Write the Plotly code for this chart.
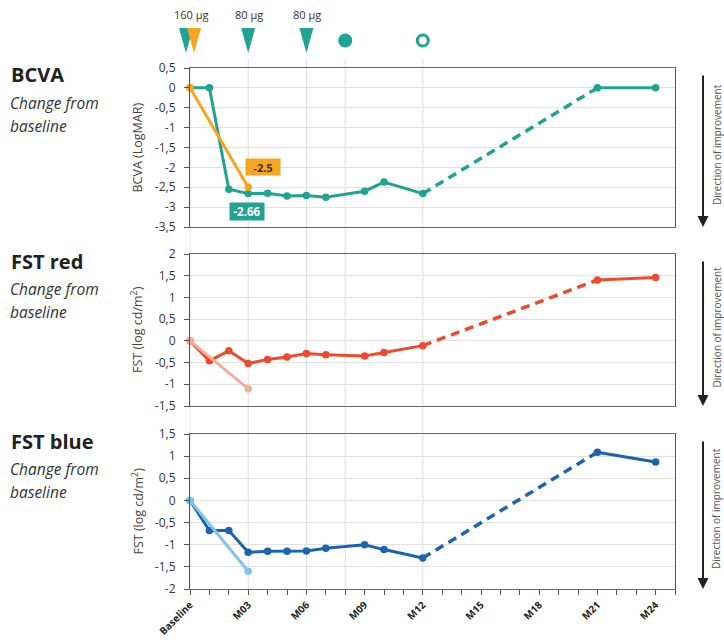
import plotly.graph_objects as go

W, H = 724, 642

# ---- data -------------------------------------------------------------
months = [0, 1, 2, 3, 4, 5, 6, 7, 9, 10, 12]
late_months = [21, 24]

bcva = [0, 0, -2.55, -2.66, -2.65, -2.72, -2.71, -2.75, -2.6, -2.37, -2.66]
bcva_late = [0, 0]
bcva_160_months = [0, 3]
bcva_160 = [0, -2.5]

fst_red = [0, -0.46, -0.23, -0.52, -0.43, -0.37, -0.29, -0.32, -0.35, -0.27, -0.11]
fst_red_late = [1.40, 1.46]
fst_red_160 = [0, -1.1]

fst_blue = [0, -0.68, -0.68, -1.17, -1.15, -1.15, -1.14, -1.08, -1.0, -1.11, -1.30]
fst_blue_late = [1.09, 0.87]
fst_blue_160 = [0, -1.6]

x_range = [0, 25]
x_tick_vals = list(range(26))
x_tick_labels = {0: "Baseline", 3: "M03", 6: "M06", 9: "M09", 12: "M12",
                 15: "M15", 18: "M18", 21: "M21", 24: "M24"}

bcva_ticks = [-3.5, -3, -2.5, -2, -1.5, -1, -0.5, 0, 0.5]
bcva_tick_text = ["-3,5", "-3", "-2,5", "-2", "-1,5", "-1", "-0,5", "0", "0,5"]
red_ticks = [-1.5, -1, -0.5, 0, 0.5, 1, 1.5, 2]
red_tick_text = ["-1,5", "-1", "-0,5", "0", "0,5", "1", "1,5", "2"]
blue_ticks = [-2, -1.5, -1, -0.5, 0, 0.5, 1, 1.5]
blue_tick_text = ["-2", "-1,5", "-1", "-0,5", "0", "0,5", "1", "1,5"]

# dosing / event markers along the top
dose_months = [0, 0, 3, 6]
dose_labels = {0: "160 µg", 3: "80 µg", 6: "80 µg"}
visit_filled_month = 8
visit_open_month = 12
event_line_months = [0, 3, 6, 8, 12]

# ---- styling ----------------------------------------------------------
TEAL = "#21a394"
ORANGE = "#f7a51e"
RED = "#ee4a2b"
SALMON = "#f5ae9e"
BLUE = "#1a64b0"
LIGHTBLUE = "#7fc4f1"
FONT = "Open Sans"

def px_x(p):
    return p / W

def px_y(p):
    return 1 - p / H

def month_frac(m):
    # position of a month as a fraction of the x-axis domain
    return (m - x_range[0]) / (x_range[1] - x_range[0])

panels = [
    dict(xa="x", ya="y", dom=(227, 68), rng=[-3.5, 0.5], ticks=bcva_ticks, ticktext=bcva_tick_text,
         main=bcva, late=bcva_late, short=bcva_160, c=TEAL, cs=ORANGE,
         title="BCVA", ytitle="BCVA (LogMAR)", top=68),
    dict(xa="x2", ya="y2", dom=(406, 254), rng=[-1.5, 2], ticks=red_ticks, ticktext=red_tick_text,
         main=fst_red, late=fst_red_late, short=fst_red_160, c=RED, cs=SALMON,
         title="FST red", ytitle="FST (log cd/m<sup>2</sup>)", top=254),
    dict(xa="x3", ya="y3", dom=(589, 434), rng=[-2, 1.5], ticks=blue_ticks, ticktext=blue_tick_text,
         main=fst_blue, late=fst_blue_late, short=fst_blue_160, c=BLUE, cs=LIGHTBLUE,
         title="FST blue", ytitle="FST (log cd/m<sup>2</sup>)", top=434),
]

fig = go.Figure()
annotations = []
shapes = []

for p in panels:
    xa, ya = p["xa"], p["ya"]
    # measured series
    fig.add_trace(go.Scatter(x=months, y=p["main"], xaxis=xa, yaxis=ya, mode="lines+markers",
                             line=dict(color=p["c"], width=3), marker=dict(size=7.5, color=p["c"]),
                             cliponaxis=False, hoverinfo="skip"))
    fig.add_trace(go.Scatter(x=[months[-1], late_months[0]], y=[p["main"][-1], p["late"][0]],
                             xaxis=xa, yaxis=ya, mode="lines",
                             line=dict(color=p["c"], width=3.5, dash="9px,6px"), hoverinfo="skip"))
    fig.add_trace(go.Scatter(x=late_months, y=p["late"], xaxis=xa, yaxis=ya, mode="lines+markers",
                             line=dict(color=p["c"], width=3), marker=dict(size=7.5, color=p["c"]),
                             cliponaxis=False, hoverinfo="skip"))
    # 160 µg comparison eye
    fig.add_trace(go.Scatter(x=bcva_160_months, y=p["short"], xaxis=xa, yaxis=ya,
                             mode="lines+markers", line=dict(color=p["cs"], width=3),
                             marker=dict(size=7.5, color=p["cs"]), cliponaxis=False,
                             hoverinfo="skip"))

    # panel heading
    annotations.append(dict(text=f"<b>{p['title']}</b>", xref="paper", yref="paper",
                            x=px_x(9), y=px_y(p["top"] + 7), xanchor="left", yanchor="middle",
                            showarrow=False, font=dict(family=FONT, size=20, color="#222")))
    annotations.append(dict(text="<i>Change from</i>", xref="paper", yref="paper",
                            x=px_x(8), y=px_y(p["top"] + 35), xanchor="left", yanchor="middle",
                            showarrow=False, font=dict(family=FONT, size=15.5, color="#333")))
    annotations.append(dict(text="<i>baseline</i>", xref="paper", yref="paper",
                            x=px_x(8), y=px_y(p["top"] + 58), xanchor="left", yanchor="middle",
                            showarrow=False, font=dict(family=FONT, size=15.5, color="#333")))
    # y axis title
    mid = (p["dom"][0] + p["dom"][1]) / 2
    annotations.append(dict(text=p["ytitle"], xref="paper", yref="paper", x=px_x(137), y=px_y(mid),
                            textangle=-90, showarrow=False, xanchor="center", yanchor="middle",
                            font=dict(family=FONT, size=12.5, color="#444")))
    # direction arrow
    annotations.append(dict(text="", xref="paper", yref="paper", x=px_x(703),
                            y=px_y(p["dom"][0]), ax=0, ay=-(p["dom"][0] - p["dom"][1] - 6),
                            axref="pixel", ayref="pixel", showarrow=True, arrowhead=2,
                            arrowsize=1.1, arrowwidth=2, arrowcolor="#222"))
    annotations.append(dict(text="Direction of improvement", xref="paper", yref="paper",
                            x=px_x(716.5), y=px_y(mid - 3), textangle=-90, showarrow=False,
                            xanchor="center", yanchor="middle",
                            font=dict(family=FONT, size=10, color="#555")))

# value call-outs at M03 in the BCVA panel
annotations.append(dict(text=f"<b>{bcva_160[-1]:g}</b>", xref="x", yref="y", x=bcva_160_months[-1],
                        y=bcva_160[-1], xanchor="left", yanchor="middle", xshift=-3, yshift=20,
                        showarrow=False, bgcolor=ORANGE, borderpad=1, width=32, height=14,
                        font=dict(family=FONT, size=11, color="#333")))
annotations.append(dict(text=f"<b>{bcva[3]:g}</b>", xref="x", yref="y", x=months[3], y=bcva[3],
                        xanchor="center", yanchor="middle", xshift=-1, yshift=-18,
                        showarrow=False, bgcolor=TEAL, borderpad=1, width=32, height=15,
                        font=dict(family=FONT, size=11.5, color="white")))

# event lines spanning all panels
for m in event_line_months:
    shapes.append(dict(type="line", xref="x", yref="paper", x0=m, x1=m,
                       y0=px_y(589), y1=px_y(58), line=dict(color="#dedede", width=1),
                       layer="below"))

# dose triangles (placed on the x-axis domain so they are not clipped at the edge)
MARK_Y = px_y(40.5)
dose_colors = [TEAL, ORANGE, TEAL, TEAL]
dose_offsets = [-4, 4, 0, 0]
for m, col, off in zip(dose_months, dose_colors, dose_offsets):
    shapes.append(dict(type="path", xref="x domain", yref="paper", xsizemode="pixel",
                       ysizemode="pixel", xanchor=month_frac(m), yanchor=MARK_Y,
                       path=f"M {off-7},12.5 L {off+7},12.5 L {off},-12.5 Z",
                       fillcolor=col, line=dict(width=0), layer="above"))
for m, txt in dose_labels.items():
    annotations.append(dict(text=txt, xref="x", yref="paper", x=m, y=px_y(15), xshift=1,
                            showarrow=False, xanchor="center", yanchor="middle",
                            font=dict(family=FONT, size=11, color="#333")))

# follow-up visits
shapes.append(dict(type="circle", xref="x domain", yref="paper", xsizemode="pixel",
                   ysizemode="pixel", xanchor=month_frac(visit_filled_month), yanchor=MARK_Y,
                   x0=-7, x1=7, y0=-7, y1=7, fillcolor=TEAL, line=dict(width=0), layer="above"))
shapes.append(dict(type="circle", xref="x domain", yref="paper", xsizemode="pixel",
                   ysizemode="pixel", xanchor=month_frac(visit_open_month), yanchor=MARK_Y,
                   x0=-5.5, x1=5.5, y0=-5.5, y1=5.5, fillcolor="white",
                   line=dict(color=TEAL, width=3), layer="above"))

yaxis_common = dict(showgrid=True, gridcolor="#e2e2e2", gridwidth=1, zeroline=False,
                    showline=True, linecolor="#555", linewidth=1.2, mirror=True,
                    ticks="outside", ticklen=5, tickcolor="#555", automargin=False,
                    tickfont=dict(family=FONT, size=12, color="#333"),
                    ticklabelstandoff=6, tickmode="array")

xaxis_common = dict(domain=[px_x(190), px_x(675)], range=x_range, showgrid=False,
                    zeroline=False, showline=True, linecolor="#666", linewidth=1.2, mirror=True,
                    automargin=False, tickmode="array", tickvals=x_tick_vals)

layout_axes = {}
for p in panels:
    ykey = "yaxis" + p["ya"][1:]
    xkey = "xaxis" + p["xa"][1:]
    layout_axes[ykey] = dict(yaxis_common, anchor=p["xa"],
                             domain=[px_y(p["dom"][0]), px_y(p["dom"][1])],
                             range=p["rng"], tickvals=p["ticks"], ticktext=p["ticktext"])
    if p["xa"] == "x3":
        layout_axes[xkey] = dict(xaxis_common, anchor=p["ya"], matches="x",
                                 ticks="outside", ticklen=5, tickcolor="#555",
                                 ticktext=[x_tick_labels.get(v, "") for v in x_tick_vals],
                                 tickangle=-45,
                                 tickfont=dict(family=FONT, size=10, color="#222", weight="bold"))
    else:
        layout_axes[xkey] = dict(xaxis_common, anchor=p["ya"], ticks="", showticklabels=False,
                                 **({} if p["xa"] == "x" else {"matches": "x"}))

fig.update_layout(
    width=W, height=H, margin=dict(l=0, r=0, t=0, b=0, autoexpand=False),
    paper_bgcolor="white", plot_bgcolor="white", showlegend=False,
    font=dict(family=FONT),
    annotations=annotations,
    shapes=shapes,
    **layout_axes,
)

fig.write_html("out.html")
